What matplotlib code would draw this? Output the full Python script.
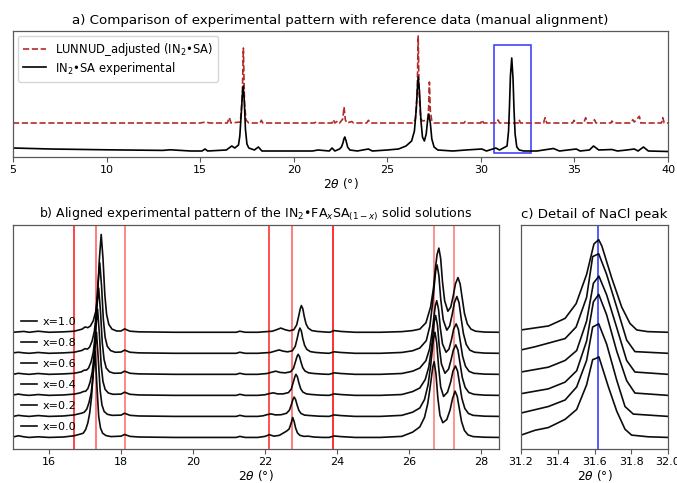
import matplotlib
matplotlib.use("Agg")
import matplotlib.pyplot as plt
from matplotlib.patches import Rectangle

# ---------------- data ----------------
# Panel a: experimental pattern (black) and reference pattern (red dashed), points (2theta, intensity)
EXP_PATTERN = [(5.0, 0.03), (7.0, 0.02), (10.0, 0.012), (13.0, 0.006), (13.4, 0.012), (14.5, 0.0),
               (15.1, 0.0), (15.26, 0.02), (15.4, 0.0), (16.4, 0.01), (16.69, 0.05), (16.85, 0.03),
               (17.05, 0.06), (17.12, 0.15), (17.2, 0.38), (17.25, 0.55), (17.3, 0.65), (17.36, 0.5),
               (17.42, 0.22), (17.5, 0.07), (17.6, 0.03), (17.9, 0.01), (18.11, 0.04), (18.3, 0.0),
               (21.0, 0.0), (21.3, 0.01), (21.9, 0.0), (22.05, 0.03), (22.2, 0.0), (22.45, 0.02),
               (22.55, 0.04), (22.63, 0.08), (22.68, 0.12), (22.73, 0.14), (22.8, 0.1), (22.88, 0.04),
               (23.0, 0.01), (23.4, 0.0), (23.99, 0.02), (24.2, 0.0), (25.0, 0.01), (25.6, 0.02),
               (26.0, 0.05), (26.3, 0.1), (26.45, 0.2), (26.55, 0.42), (26.6, 0.6), (26.65, 0.74),
               (26.72, 0.6), (26.8, 0.3), (26.88, 0.14), (26.98, 0.1), (27.08, 0.17), (27.15, 0.3),
               (27.22, 0.37), (27.3, 0.28), (27.38, 0.12), (27.5, 0.04), (27.7, 0.01), (28.5, 0.0),
               (29.2, 0.01), (30.05, 0.02), (30.3, 0.0), (30.8, 0.03), (31.0, 0.01), (31.4, 0.05),
               (31.48, 0.2), (31.53, 0.45), (31.58, 0.75), (31.65, 0.93), (31.72, 0.72), (31.77, 0.42),
               (31.83, 0.17), (31.92, 0.04), (32.05, 0.01), (32.3, 0.0), (33.0, 0.0), (33.88, 0.025),
               (34.2, 0.0), (35.1, 0.02), (35.3, 0.0), (35.8, 0.01), (36.02, 0.05), (36.3, 0.01),
               (37.0, 0.015), (37.3, 0.0), (37.8, 0.01), (38.2, 0.02), (38.4, 0.0), (38.69, 0.04),
               (38.95, 0.0), (40.0, -0.005)]

REF_PATTERN = [(5.0, 0.0), (15.0, 0.0), (15.3, 0.01), (15.5, 0.0), (16.45, 0.0), (16.56, 0.055),
               (16.65, 0.0), (17.15, 0.01), (17.25, 0.25), (17.31, 0.75), (17.37, 0.2), (17.45, 0.03),
               (17.6, 0.0), (18.2, 0.0), (18.27, 0.027), (18.35, 0.0), (21.1, 0.0), (21.2, 0.01),
               (21.3, 0.0), (22.05, 0.0), (22.12, 0.033), (22.2, 0.0), (22.35, 0.02), (22.45, 0.0),
               (22.62, 0.04), (22.69, 0.16), (22.76, 0.03), (22.85, 0.0), (23.1, 0.015), (23.2, 0.0),
               (23.9, 0.0), (23.99, 0.027), (24.1, 0.0), (26.4, 0.0), (26.5, 0.04), (26.6, 0.3),
               (26.65, 0.87), (26.7, 0.3), (26.78, 0.04), (26.9, 0.02), (27.15, 0.03), (27.21, 0.15),
               (27.25, 0.41), (27.3, 0.12), (27.38, 0.02), (27.5, 0.0), (29.1, 0.0), (29.16, 0.015),
               (29.25, 0.0), (30.0, 0.0), (30.05, 0.03), (30.15, 0.0), (30.85, 0.0), (30.92, 0.03),
               (31.0, 0.0), (32.0, 0.0), (32.04, 0.033), (32.12, 0.0), (33.35, 0.0), (33.43, 0.053),
               (33.52, 0.0), (34.9, 0.0), (34.98, 0.027), (35.05, 0.0), (35.5, 0.0), (35.6, 0.053),
               (35.7, 0.0), (36.0, 0.0), (36.07, 0.033), (36.15, 0.0), (36.95, 0.0), (37.0, 0.02),
               (37.08, 0.0), (38.0, 0.0), (38.12, 0.033), (38.2, 0.01), (38.47, 0.067), (38.55, 0.0),
               (39.65, 0.0), (39.72, 0.053), (39.8, 0.0), (40.0, 0.0)]

LABEL_REF = "LUNNUD_adjusted (IN$_2$•SA)"
LABEL_EXP = "IN$_2$•SA experimental"
NACL_WINDOW = (30.7, 32.7)   # highlighted 2theta range in panel a
NACL_BOX_Y = (-0.023, 1.06)  # box extent in panel a intensity units
NACL_PEAK = 31.62

# Panel b: aligned experimental patterns for each composition x
COMPOSITIONS = ["x=0.0", "x=0.2", "x=0.4", "x=0.6", "x=0.8", "x=1.0"]
B_X00 = [(15.0,0.02),(15.15,0.08),(15.3,0.03),(15.45,0.0),(15.7,0.03),(16.0,0.0),(16.4,0.02),
         (16.7,0.08),(16.85,0.15),(16.95,0.2),(17.02,0.38),(17.08,0.7),(17.13,1.15),(17.18,1.9),
         (17.23,3.1),(17.28,4.1),(17.33,2.5),(17.38,1.0),(17.43,0.45),(17.49,0.2),(17.58,0.09),
         (17.72,0.04),(18.0,0.06),(18.1,0.14),(18.25,0.05),(18.5,0.02),(19.5,0.0),(20.5,0.0),
         (21.2,0.0),(21.3,0.05),(21.45,0.0),(21.8,0.0),(22.0,0.05),(22.12,0.13),(22.25,0.06),
         (22.4,0.1),(22.52,0.22),(22.6,0.3),(22.67,0.4),(22.72,0.65),(22.77,0.95),(22.81,0.75),
         (22.85,0.45),(22.9,0.22),(22.97,0.1),(23.08,0.05),(23.2,0.06),(23.35,0.02),(23.6,0.0),
         (23.78,0.0),(23.92,0.07),(24.1,0.04),(24.5,0.0),(25.2,0.0),
         (25.8,0.05),(26.1,0.25),(26.3,0.5),(26.43,0.95),(26.52,1.6),(26.58,2.3),(26.63,2.95),
         (26.66,3.35),(26.7,3.6),(26.75,3.0),(26.8,1.9),(26.86,1.05),(26.94,0.7),(27.05,0.85),
         (27.14,1.3),(27.21,1.85),(27.28,2.2),(27.34,1.95),(27.4,1.35),(27.46,0.75),(27.54,0.33),
         (27.64,0.12),(27.78,0.04),(28.1,0.01),(28.5,0.0)]
B_X02 = [(15.0,0.0),(15.15,0.05),(15.3,0.02),(15.45,0.0),(15.7,0.04),(16.0,0.0),(16.4,0.02),
         (16.7,0.07),(16.82,0.12),(16.9,0.15),(16.98,0.2),(17.05,0.35),(17.11,0.65),(17.17,1.1),
         (17.22,1.85),(17.27,3.1),(17.32,4.0),(17.37,2.7),(17.42,1.25),(17.47,0.55),(17.53,0.24),
         (17.62,0.1),(17.75,0.05),(18.0,0.06),(18.1,0.15),(18.25,0.05),(18.5,0.02),(19.5,0.0),
         (20.5,0.0),(21.2,0.0),(21.3,0.05),(21.45,0.0),(21.8,0.0),(21.95,0.03),(22.05,0.08),
         (22.17,0.12),(22.29,0.07),(22.45,0.08),(22.6,0.15),(22.68,0.3),(22.74,0.6),(22.78,0.82),
         (22.81,0.92),(22.85,0.8),(22.89,0.55),(22.94,0.29),(23.0,0.14),(23.1,0.06),(23.25,0.04),
         (23.5,0.01),(23.78,0.0),(23.92,0.07),(24.1,0.04),(24.5,0.0),(25.2,0.0),
         (25.8,0.05),(26.1,0.2),(26.3,0.4),(26.43,0.8),(26.53,1.5),(26.6,2.4),(26.65,3.2),
         (26.68,3.7),(26.72,4.0),(26.77,3.5),(26.82,2.4),(26.88,1.4),(26.96,0.95),(27.07,1.15),
         (27.16,1.65),(27.22,2.15),(27.29,2.4),(27.35,2.15),(27.41,1.5),(27.47,0.85),(27.55,0.38),
         (27.65,0.14),(27.78,0.05),(28.1,0.01),(28.5,0.0)]
B_X04 = [(15.0,0.02),(15.15,0.06),(15.3,0.02),(15.45,0.0),(15.7,0.04),(16.0,0.0),(16.4,0.02),
         (16.7,0.06),(16.87,0.12),(16.95,0.18),(17.02,0.2),(17.08,0.32),(17.14,0.62),(17.2,1.1),
         (17.25,1.85),(17.3,3.2),(17.35,4.1),(17.4,2.9),(17.45,1.4),(17.5,0.65),(17.56,0.28),
         (17.65,0.11),(17.78,0.05),(18.0,0.06),(18.1,0.15),(18.25,0.05),(18.5,0.02),(19.5,0.0),
         (20.5,0.0),(21.2,0.0),(21.3,0.05),(21.45,0.0),(21.8,0.0),(22.0,0.03),(22.11,0.08),
         (22.23,0.12),(22.35,0.07),(22.5,0.07),(22.65,0.13),(22.73,0.3),(22.79,0.65),(22.83,0.89),
         (22.86,1.0),(22.9,0.88),(22.94,0.6),(22.99,0.32),(23.05,0.16),(23.15,0.07),(23.3,0.04),
         (23.55,0.01),(23.78,0.0),(23.92,0.07),(24.1,0.04),(24.5,0.0),(25.2,0.0),
         (25.8,0.04),(26.1,0.18),(26.3,0.35),(26.45,0.75),(26.55,1.35),(26.62,2.2),(26.67,2.95),
         (26.7,3.5),(26.74,3.8),(26.79,3.35),(26.84,2.35),(26.9,1.5),(27.0,1.05),(27.1,1.25),
         (27.17,1.7),(27.23,2.15),(27.3,2.4),(27.36,2.15),(27.42,1.5),(27.48,0.85),(27.56,0.38),
         (27.66,0.14),(27.8,0.05),(28.1,0.01),(28.5,0.0)]
B_X06 = [(15.0,0.0),(15.15,0.05),(15.3,0.02),(15.45,0.0),(15.7,0.04),(16.0,0.0),(16.4,0.02),
         (16.7,0.05),(16.9,0.12),(16.98,0.2),(17.04,0.2),(17.1,0.3),(17.17,0.6),(17.23,1.05),
         (17.28,1.8),(17.33,3.2),(17.38,4.1),(17.43,3.0),(17.48,1.5),(17.53,0.7),(17.59,0.3),
         (17.68,0.12),(17.81,0.05),(18.0,0.06),(18.1,0.15),(18.25,0.05),(18.5,0.02),(19.5,0.0),
         (20.5,0.0),(21.2,0.0),(21.3,0.05),(21.45,0.0),(21.8,0.0),(22.06,0.04),(22.18,0.1),
         (22.3,0.15),(22.42,0.09),(22.56,0.07),(22.71,0.12),(22.79,0.28),(22.85,0.62),(22.89,0.85),
         (22.92,0.95),(22.96,0.84),(23.0,0.58),(23.05,0.31),(23.11,0.16),(23.21,0.07),(23.36,0.04),
         (23.6,0.01),(23.78,0.0),(23.92,0.07),(24.1,0.04),(24.5,0.0),(25.2,0.0),
         (25.8,0.04),(26.1,0.15),(26.3,0.3),(26.47,0.65),(26.57,1.2),(26.64,2.0),(26.69,2.7),
         (26.73,3.25),(26.77,3.5),(26.82,3.1),(26.87,2.2),(26.93,1.45),(27.03,1.05),(27.11,1.2),
         (27.18,1.65),(27.24,2.15),(27.31,2.4),(27.37,2.15),(27.43,1.5),(27.49,0.85),(27.57,0.38),
         (27.67,0.14),(27.8,0.05),(28.1,0.01),(28.5,0.0)]
B_X08 = [(15.0,0.02),(15.15,0.05),(15.3,0.02),(15.45,0.0),(15.7,0.04),(16.0,0.0),(16.4,0.02),
         (16.7,0.05),(16.92,0.14),(17.0,0.22),(17.07,0.2),(17.13,0.3),(17.2,0.6),(17.26,1.05),
         (17.31,1.8),(17.36,3.3),(17.41,4.3),(17.46,3.2),(17.51,1.6),(17.56,0.75),(17.62,0.33),
         (17.71,0.13),(17.84,0.05),(18.0,0.06),(18.1,0.15),(18.25,0.05),(18.5,0.02),(19.5,0.0),
         (20.5,0.0),(21.2,0.0),(21.3,0.05),(21.45,0.0),(21.8,0.0),(22.15,0.04),(22.27,0.1),
         (22.39,0.16),(22.51,0.1),(22.63,0.07),(22.76,0.12),(22.84,0.33),(22.9,0.75),(22.94,1.06),
         (22.97,1.2),(23.01,1.06),(23.05,0.7),(23.1,0.38),(23.16,0.19),(23.26,0.08),(23.41,0.04),
         (23.65,0.01),(23.78,0.0),(23.92,0.07),(24.1,0.04),(24.5,0.0),(25.2,0.0),
         (25.8,0.04),(26.1,0.12),(26.3,0.25),(26.48,0.6),(26.58,1.3),(26.65,2.3),(26.7,3.2),
         (26.74,3.9),(26.78,4.2),(26.83,3.7),(26.88,2.6),(26.95,1.6),(27.05,1.1),(27.13,1.3),
         (27.2,1.85),(27.26,2.4),(27.33,2.7),(27.39,2.4),(27.45,1.65),(27.51,0.95),(27.59,0.42),
         (27.69,0.15),(27.82,0.05),(28.1,0.01),(28.5,0.0)]
B_X10 = [(15.0,0.0),(15.15,0.02),(15.3,0.04),(15.45,0.0),(15.7,0.05),(16.0,0.0),(16.4,0.02),
         (16.7,0.05),(16.92,0.15),(17.0,0.25),(17.08,0.22),(17.15,0.3),(17.23,0.55),(17.3,1.0),
         (17.35,1.8),(17.4,3.5),(17.45,4.65),(17.5,3.5),(17.55,1.8),(17.6,0.85),(17.66,0.38),
         (17.75,0.15),(17.88,0.06),(18.0,0.06),(18.1,0.16),(18.25,0.05),(18.5,0.02),(19.5,0.0),
         (20.5,0.0),(21.2,0.0),(21.3,0.05),(21.45,0.0),(21.8,0.0),(22.2,0.05),(22.32,0.12),
         (22.44,0.2),(22.56,0.12),(22.68,0.07),(22.8,0.12),(22.88,0.35),(22.94,0.8),(22.98,1.12),
         (23.01,1.27),(23.05,1.12),(23.09,0.75),(23.14,0.4),(23.2,0.2),(23.3,0.08),(23.45,0.04),
         (23.7,0.01),(23.8,0.0),(23.92,0.08),(24.1,0.04),(24.5,0.0),(25.2,0.0),
         (25.8,0.03),(26.1,0.08),(26.3,0.15),(26.47,0.45),(26.6,1.2),(26.68,2.1),(26.73,3.0),
         (26.78,3.7),(26.83,4.0),(26.88,3.5),(26.93,2.4),(26.99,1.5),(27.08,1.0),(27.16,1.2),
         (27.23,1.75),(27.29,2.3),(27.36,2.6),(27.42,2.3),(27.48,1.6),(27.54,0.9),(27.62,0.4),
         (27.72,0.15),(27.85,0.05),(28.1,0.01),(28.5,0.0)]
B_CURVES = [B_X00, B_X02, B_X04, B_X06, B_X08, B_X10]

REF_LINES = [16.7, 17.3, 18.1, 22.1, 22.75, 23.9, 26.7, 27.25]
REF_LINE_ALPHA = [0.85, 0.6, 0.55, 0.8, 0.6, 0.95, 0.5, 0.5]

# Panel c: detail of the NaCl peak for each composition
C_X00 = [(31.2,0.11),(31.276,0.34),(31.349,0.47),(31.44,0.86),(31.503,1.33),(31.557,2.5),(31.59,3.7),
         (31.606,3.75),(31.624,3.83),(31.675,2.42),(31.721,1.25),(31.766,0.39),(31.802,0.11),
         (31.893,0.03),(32.0,0.0)]
C_X02 = [(31.2,0.16),(31.349,0.47),(31.44,0.78),(31.503,1.4),(31.557,2.66),(31.59,4.25),(31.623,4.4),
         (31.666,3.44),(31.721,1.72),(31.766,0.47),(31.811,0.11),(32.0,0.0)]
C_X04 = [(31.2,0.08),(31.349,0.31),(31.44,0.63),(31.503,1.17),(31.557,2.58),(31.594,4.45),(31.623,4.8),
         (31.666,3.83),(31.721,2.1),(31.775,0.7),(31.82,0.11),(32.0,0.0)]
C_X06 = [(31.2,0.11),(31.349,0.34),(31.44,0.66),(31.503,1.13),(31.557,2.53),(31.594,4.33),(31.624,4.67),
         (31.666,3.78),(31.721,2.22),(31.775,0.66),(31.82,0.11),(32.0,0.0)]
C_X08 = [(31.2,0.16),(31.276,0.31),(31.44,0.7),(31.5,1.25),(31.557,2.66),(31.59,4.6),(31.623,4.73),
         (31.666,3.75),(31.721,2.19),(31.775,0.63),(31.82,0.08),(32.0,0.0)]
C_X10 = [(31.2,0.11),(31.35,0.3),(31.44,0.66),(31.5,1.36),(31.557,2.75),(31.597,4.2),(31.623,4.4),
         (31.64,4.1),(31.693,2.6),(31.748,1.2),(31.793,0.42),(31.83,0.11),(31.89,0.03),(32.0,0.0)]
C_CURVES = [C_X00, C_X02, C_X04, C_X06, C_X08, C_X10]

# ---------------- layout / style constants ----------------
REF_OFFSET = 0.28
STACK_STEP = 1.0
W, H = 677, 483

plt.rcParams['font.family'] = ['DejaVu Sans']
fig = plt.figure(figsize=(W / 100, H / 100), dpi=100)

def frac(l, t, r, b):
    return [l / W, 1 - b / H, (r - l) / W, (b - t) / H]

ax_a = fig.add_axes(frac(13, 31, 668, 157))
ax_b = fig.add_axes(frac(13, 225, 499, 449))
ax_c = fig.add_axes(frac(521, 225, 668, 449))

def xy(points):
    return [p[0] for p in points], [p[1] for p in points]

TICK_FS = 8
LABEL_FS = 8.8
SPINE_C = '0.35'

for ax in (ax_a, ax_b, ax_c):
    for s in ax.spines.values():
        s.set_color(SPINE_C)
        s.set_linewidth(0.9)
    ax.set_yticks([])
    ax.tick_params(axis='x', labelsize=TICK_FS, color=SPINE_C, length=3.5, width=0.8, pad=2.5)
    ax.set_xlabel("$2\\theta$ (°)", fontsize=LABEL_FS, labelpad=0.5)

# ---- panel a ----
rx, ry = xy(REF_PATTERN)
ex, ey = xy(EXP_PATTERN)
ax_a.plot(rx, [v + REF_OFFSET for v in ry], ls='--', color='#b22a2a', lw=1.2, label=LABEL_REF)
ax_a.plot(ex, ey, color='black', lw=1.2, label=LABEL_EXP)
ax_a.add_patch(Rectangle((NACL_WINDOW[0], NACL_BOX_Y[0]), NACL_WINDOW[1] - NACL_WINDOW[0],
                         NACL_BOX_Y[1] - NACL_BOX_Y[0], fill=False, edgecolor='#3333ff', lw=1.1))
ax_a.set_xlim(5, 40)
ax_a.set_ylim(-0.06, 1.2)
ax_a.set_xticks([5, 10, 15, 20, 25, 30, 35, 40])
leg_a = ax_a.legend(loc='upper left', fontsize=8.3, frameon=True, borderpad=0.45,
                    handlelength=2.0, labelspacing=0.15, borderaxespad=0.4)
leg_a.get_frame().set_edgecolor('0.8')
ax_a.set_title("a) Comparison of experimental pattern with reference data (manual alignment)",
               fontsize=9.6, pad=5)

# ---- panel b ----
for xl, al in zip(REF_LINES, REF_LINE_ALPHA):
    ax_b.axvline(xl, color='red', alpha=al, lw=1.2, zorder=1)
handles = []
for i, (curve, lab) in enumerate(zip(B_CURVES, COMPOSITIONS)):
    cx, cy = xy(curve)
    h, = ax_b.plot(cx, [v + i * STACK_STEP for v in cy], color='black', lw=1.2, alpha=0.95,
                   zorder=2, label=lab)
    handles.append(h)
ax_b.set_xlim(15, 28.5)
ax_b.set_ylim(-0.55, 10.1)
ax_b.set_xticks([16, 18, 20, 22, 24, 26, 28])
ax_b.legend(handles=handles[::-1], labels=COMPOSITIONS[::-1], loc='lower left', frameon=False,
            fontsize=8, handlelength=1.5, handletextpad=0.5, labelspacing=1.0,
            bbox_to_anchor=(-0.005, 0.03))
ax_b.set_title("b) Aligned experimental pattern of the IN$_2$•FA$_x$SA$_{(1-x)}$ solid solutions",
               fontsize=9.0, pad=5)

# ---- panel c ----
ax_c.axvline(NACL_PEAK, color='#2b2bff', lw=1.1, zorder=1)
for i, curve in enumerate(C_CURVES):
    cx, cy = xy(curve)
    ax_c.plot(cx, [v + i * STACK_STEP for v in cy], color='black', lw=1.2, alpha=0.95, zorder=2)
ax_c.set_xlim(31.2, 32.0)
ax_c.set_ylim(-0.55, 10.1)
ax_c.set_xticks([31.2, 31.4, 31.6, 31.8, 32.0])
ax_c.set_xticklabels(["31.2", "31.4", "31.6", "31.8", "32.0"])
ax_c.set_title("c) Detail of NaCl peak", fontsize=9.6, pad=5)

fig.savefig("out.png", dpi=100)
